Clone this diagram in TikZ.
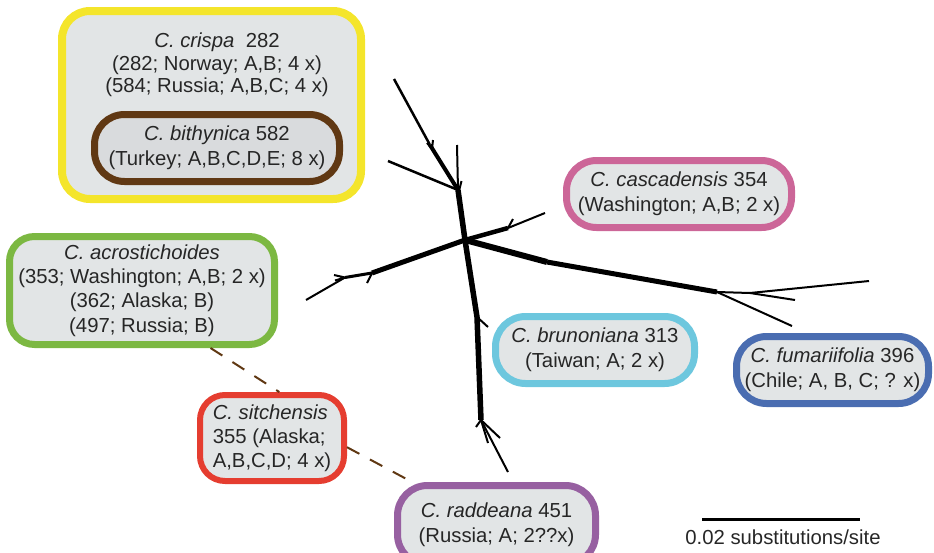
\documentclass[tikz,border=0pt]{standalone}
\usepackage{fontspec}
\setmainfont{Liberation Sans}
\definecolor{boxfill}{HTML}{E2E5E6}
\definecolor{brownfill}{HTML}{D9DBDD}
\definecolor{cyel}{HTML}{F4E52B}
\definecolor{cbrown}{HTML}{603813}
\definecolor{cgreen}{HTML}{7CB842}
\definecolor{cred}{HTML}{E53D30}
\definecolor{cpurple}{HTML}{9760A1}
\definecolor{cpink}{HTML}{CC6698}
\definecolor{ccyan}{HTML}{6DC7DE}
\definecolor{cblue}{HTML}{4A6DB1}
\tikzset{
  spbox/.style={draw=#1, fill=boxfill, rounded corners=30pt, line width=7pt,
    inner sep=0pt, align=center, text=black!85,
    font=\fontsize{20.3}{25}\selectfont},
  br/.style={line width=#1, line cap=butt, line join=round},
  dashline/.style={draw=cbrown, line width=2pt, dash pattern=on 14pt off 12pt},
}
\begin{document}
\begin{tikzpicture}[x=1pt,y=-1pt]
\path[use as bounding box] (0,0) rectangle (934,552);
\clip (0,0) rectangle (934,552);

% yellow group box
\node[spbox=cyel, line width=8pt, rounded corners=28pt, minimum width=299pt, minimum height=188pt] (crispa) at (211.5,105) {};
\node[font=\fontsize{20.3}{22.5}\selectfont, align=center, inner sep=0pt, text=black!85] (crispatxt) at (217,65)
  {\textit{C. crispa}\ \ 282\\(282; Norway; A,B; 4 x)\\(584; Russia; A,B,C; 4 x)};
\node[spbox=cbrown, fill=brownfill, minimum width=245pt, minimum height=67pt] (bith) at (217,148)
  {\textit{C. bithynica} 582\\(Turkey; A,B,C,D,E; 8 x)};

% other boxes
\node[spbox=cgreen, rounded corners=25pt, minimum width=265pt, minimum height=108pt,
  font=\fontsize{20.3}{24.3}\selectfont] (acro) at (142,290.5)
  {\textit{C. acrostichoides}\\(353; Washington; A,B; 2 x)\\(362; Alaska; B)\\(497; Russia; B)};
\node[spbox=cred, line width=6pt, rounded corners=25pt, minimum width=144pt, minimum height=86pt,
  align=left, font=\fontsize{20.3}{24}\selectfont] (sitch) at (272,438)
  {\textit{C. sitchensis}\\355 (Alaska;\\A,B,C,D; 4 x)};
\node[spbox=cpurple, minimum width=198pt, minimum height=79pt] (radd) at (496.5,525)
  {\textit{C. raddeana} 451\\(Russia; A; 2??x)};
\node[spbox=cpink, minimum width=225pt, minimum height=67pt] (casc) at (679,194)
  {\textit{C. cascadensis} 354\\(Washington; A,B; 2 x)};
\node[spbox=ccyan, minimum width=199pt, minimum height=67pt] (brun) at (595,350)
  {\textit{C. brunoniana} 313\\(Taiwan; A; 2 x)};
\node[spbox=cblue, minimum width=192pt, minimum height=67pt] (fuma) at (832.5,370)
  {\textit{C. fumariifolia} 396\\(Chile; A, B, C; ? x)};

% dashed links
\draw[dashline] (acro.-40) -- (sitch.81);
\draw[dashline] (sitch.-7) -- (radd.153.6);

% tree
\coordinate (C) at (465,240);
\coordinate (A) at (458,190);
\coordinate (t1) at (394,79);
\coordinate (t2) at (430,145);
\coordinate (v1) at (457,145);
\coordinate (l1) at (388,161);
\coordinate (dl1) at (372,273);
\coordinate (dl2) at (345,277.5);
\coordinate (dl3) at (306,300);
\coordinate (ru1) at (508,228);
\coordinate (ru2) at (545,213);
\coordinate (rut) at (513,219);
\coordinate (rd0) at (547,262);
\coordinate (rd1) at (717,292);
\coordinate (rd2) at (750,293);
\coordinate (rd3) at (869,281);
\coordinate (rd4) at (795,300);
\coordinate (rd5) at (792,326);
\coordinate (d1) at (477,317);
\coordinate (d2) at (481,420);
\coordinate (d3) at (508,472);
\coordinate (dt) at (488,327);

\draw[br=5.5pt] (A) -- (C);
\draw[br=2.5pt] (t1) -- (t2);
\draw[br=4pt] (t2) -- (A);
\draw[br=2pt] (427,143) -- (433,150);
\draw[br=2pt] (433,140) -- (432,149);
\draw[br=2pt] (v1) -- (A);
\draw[br=2pt] (454,182) -- (458.5,191);
\draw[br=2pt] (461.5,181) -- (459,191);
\draw[br=2.5pt] (l1) -- (A);
\draw[br=5pt] (C) -- (dl1);
\draw[br=3pt] (dl1) -- (dl2);
\draw[br=2pt] (dl2) -- (dl3);
\draw[br=2pt] (dl1) -- (367,283);
\draw[br=2pt] (334,275) -- (dl2) -- (335,280.5);
\draw[br=4.5pt] (C) -- (ru1);
\draw[br=2pt] (ru1) -- (ru2);
\draw[br=2pt] (ru1) -- (rut);
\draw[br=6pt] (C) -- (rd0);
\draw[br=5pt] (rd0) -- (rd1);
\draw[br=2pt] (rd1) -- (rd2) -- (rd3);
\draw[br=2pt] (rd2) -- (rd4);
\draw[br=2pt] (rd1) -- (rd5);
\draw[br=5.5pt] (C) -- (d1) -- (d2);
\draw[br=2pt] (d1) -- (dt);
\draw[br=2pt] (d2) -- (d3);
\draw[br=2pt] (d2) -- (500,438);
\draw[br=2pt] (d2) -- (488,443);
\draw[br=2pt] (d2) -- (476,427);

% scale bar
\coordinate (sb1) at (702,519);
\coordinate (sb2) at (860,519);
\draw[line width=3pt] (sb1) -- (sb2);
\node[anchor=base, inner sep=0pt, font=\fontsize{20.3}{25}\selectfont, text=black!85] (sbtxt) at (783,544) {0.02 substitutions/site};
\end{tikzpicture}
\end{document}
